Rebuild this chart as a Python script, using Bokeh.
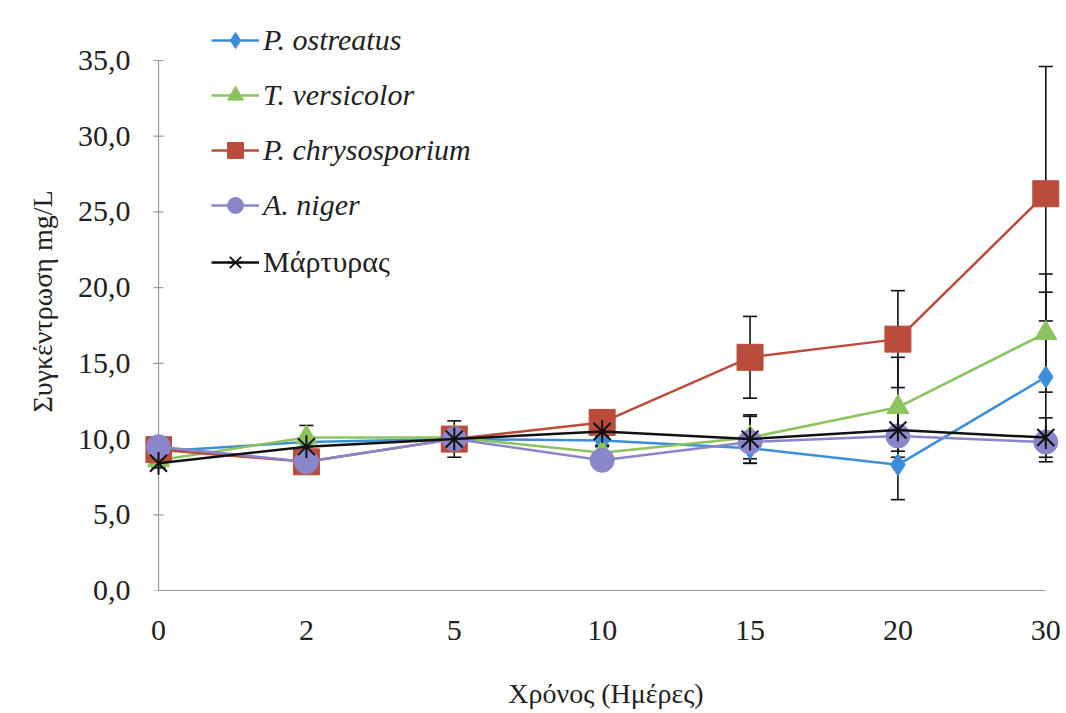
import math
from bokeh.plotting import figure
from bokeh.models import (ColumnDataSource, Whisker, TeeHead, Legend, LegendItem,
                          FixedTicker, CustomJSTickFormatter, Range1d)
from bokeh.embed import file_html
from bokeh.resources import INLINE

days = ["0", "2", "5", "10", "15", "20", "30"]
y_ticks = [0, 5, 10, 15, 20, 25, 30, 35]

p_ostreatus = [9.2, 9.8, 10.0, 9.9, 9.4, 8.3, 14.1]
p_ostreatus_err = [0.3, 0.3, 0.6, 0.3, 1.0, 2.3, 5.6]
t_versicolor = [8.6, 10.1, 10.1, 9.1, 10.1, 12.1, 17.0]
t_versicolor_err = [0.3, 0.8, 0.5, 0.4, 1.4, 3.3, 3.9]
p_chrysosporium = [9.3, 8.5, 10.0, 11.1, 15.4, 16.6, 26.2]
p_chrysosporium_err = [0.3, 0.3, 0.4, 0.8, 2.7, 3.2, 8.4]
a_niger = [9.5, 8.5, 10.0, 8.6, 9.8, 10.2, 9.8]
a_niger_err = [0.3, 0.3, 0.4, 0.3, 0.5, 0.5, 0.5]
control = [8.4, 9.5, 10.0, 10.5, 10.0, 10.6, 10.1]
control_err = [0.3, 0.4, 1.2, 0.4, 1.6, 1.4, 1.3]

names = ["P. ostreatus", "T. versicolor", "P. chrysosporium", "A. niger", "Μάρτυρας"]
values = [p_ostreatus, t_versicolor, p_chrysosporium, a_niger, control]
errors = [p_ostreatus_err, t_versicolor_err, p_chrysosporium_err, a_niger_err, control_err]
colors = ["#3C8EDB", "#8DC35E", "#B94C3B", "#8A86CA", "#111111"]
markers = ["diamond", "triangle", "square", "circle", "star6"]
sizes = [22, 22, 26, 24, 24]

FONT = "Liberation Serif"
AXIS_GREY = "#9a9a9a"

p = figure(width=1066, height=713, output_backend="svg", toolbar_location=None,
           x_range=Range1d(-0.088, len(days) - 1 + 0.14), y_range=Range1d(0, 38.17),
           min_border_left=145, min_border_right=0, min_border_top=12,
           min_border_bottom=123)
p.outline_line_color = None
p.xgrid.visible = False
p.ygrid.visible = False
p.background_fill_color = "white"
p.border_fill_color = "white"

xs = list(range(len(days)))

# y axis line at the first category, from 0 to the top tick, with ticks
p.segment(x0=[xs[0]], y0=[y_ticks[0]], x1=[xs[0]], y1=[y_ticks[-1]],
          line_color=AXIS_GREY, line_width=1.2)
p.scatter(x=[xs[0]] * len(y_ticks), y=y_ticks, marker="dash", size=10,
          line_color=AXIS_GREY, line_width=1.2)

# error bars
for v, e in zip(values, errors):
    src = ColumnDataSource(dict(x=xs, upper=[a + b for a, b in zip(v, e)],
                                lower=[a - b for a, b in zip(v, e)]))
    w = Whisker(base="x", upper="upper", lower="lower", source=src,
                line_color="#111111", line_width=1.6,
                upper_head=TeeHead(size=14, line_color="#111111", line_width=1.6),
                lower_head=TeeHead(size=14, line_color="#111111", line_width=1.6))
    p.add_layout(w)

items_main = []
items_ctrl = []
for name, v, c, m, s in zip(names, values, colors, markers, sizes):
    src = ColumnDataSource(dict(x=xs, y=v))
    lr = p.line("x", "y", source=src, line_color=c, line_width=2.5)
    if m == "star6":
        r1 = p.scatter("x", "y", source=src, marker="x", size=s, line_color=c,
                       line_width=2)
        r2 = p.scatter("x", "y", source=src, marker="dash", size=s * 0.95,
                       angle=math.pi / 2, line_color=c, line_width=2)
        rs = [lr, r1, r2]
    else:
        sr = p.scatter("x", "y", source=src, marker=m, size=s, fill_color=c,
                       line_color=c, line_width=1)
        rs = [lr, sr]
    item = LegendItem(label=name, renderers=rs)
    if name == "Μάρτυρας":
        items_ctrl.append(item)
    else:
        items_main.append(item)

# axes
p.xaxis.ticker = FixedTicker(ticks=xs)
p.xaxis.major_label_overrides = {i: d for i, d in enumerate(days)}
p.xaxis.bounds = (0, len(days) - 1)
p.xaxis.major_tick_out = 0
p.xaxis.major_tick_in = 0
p.xaxis.minor_tick_out = 0
p.xaxis.minor_tick_in = 0
p.xaxis.major_label_standoff = 30
p.xaxis.axis_label = "Χρόνος (Ημέρες)"
p.xaxis.axis_label_standoff = 35
p.xaxis.axis_line_color = AXIS_GREY
p.xaxis.axis_line_width = 1.2

p.yaxis.ticker = FixedTicker(ticks=y_ticks)
p.yaxis.formatter = CustomJSTickFormatter(code="return tick.toFixed(1).replace('.', ',');")
p.yaxis.bounds = (0, 35)
p.yaxis.axis_line_color = None
p.yaxis.major_tick_out = 0
p.yaxis.major_tick_in = 0
p.yaxis.minor_tick_out = 0
p.yaxis.minor_tick_in = 0
p.yaxis.major_label_standoff = 15
p.yaxis.axis_label = "Συγκέντρωση mg/L"
p.yaxis.axis_label_standoff = 17

for ax in (p.xaxis, p.yaxis):
    ax.major_tick_line_color = AXIS_GREY
    ax.major_label_text_font = FONT
    ax.major_label_text_font_size = "30px"
    ax.major_label_text_color = "#222222"
    ax.axis_label_text_font = FONT
    ax.axis_label_text_font_size = "28px"
    ax.axis_label_text_font_style = "normal"
    ax.axis_label_text_color = "#222222"

def make_legend(items, loc, style):
    lg = Legend(items=items, location=loc, orientation="vertical",
                label_text_font=FONT, label_text_font_size="30px",
                label_text_font_style=style, label_text_color="#222222",
                glyph_width=48, glyph_height=40, spacing=15, label_standoff=4,
                padding=0, margin=0, border_line_color=None,
                background_fill_alpha=0)
    return lg

p.add_layout(make_legend(items_main, (66, 365), "italic"), "center")
p.add_layout(make_legend(items_ctrl, (66, 308), "normal"), "center")

open("out.html", "w").write(file_html(p, INLINE))
